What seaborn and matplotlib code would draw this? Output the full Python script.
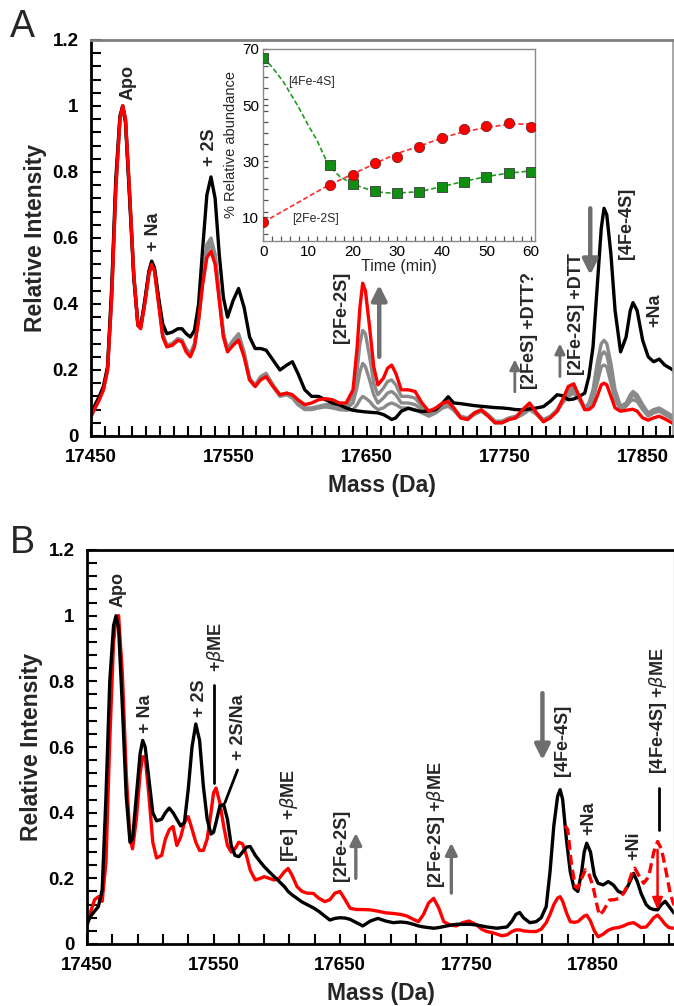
import numpy as np
import pandas as pd
import matplotlib
matplotlib.use('Agg')
import matplotlib.pyplot as plt
from matplotlib.ticker import MultipleLocator, FuncFormatter
import seaborn as sns

sns.set_style('ticks')
plt.rcParams['font.family'] = ['Liberation Sans', 'DejaVu Sans']
plt.rcParams['mathtext.fontset'] = 'dejavusans'
for k in ['xtick', 'ytick']:
    plt.rcParams[f'{k}.direction'] = 'in'
    plt.rcParams[f'{k}.major.size'] = 7
    plt.rcParams[f'{k}.minor.size'] = 7
    plt.rcParams[f'{k}.major.width'] = 1.5
    plt.rcParams[f'{k}.minor.width'] = 1.5
    plt.rcParams[f'{k}.color'] = 'black'

# ---------------- panel A spectra ----------------
mass_a = [17450, 17453, 17456, 17459, 17462, 17465, 17468, 17471, 17473, 17475,
          17478, 17481, 17484, 17486, 17489, 17492, 17494, 17496, 17499, 17502,
          17505, 17509, 17513, 17516, 17519, 17522, 17525, 17528, 17531, 17534,
          17537, 17540, 17543, 17546, 17549, 17553, 17557, 17561, 17565, 17569,
          17573, 17577, 17582, 17587, 17592, 17596, 17600, 17605, 17610, 17615,
          17620, 17625, 17630, 17635, 17640, 17643, 17645, 17647, 17649, 17652,
          17655, 17658, 17662, 17665, 17668, 17671, 17675, 17680, 17685, 17690,
          17695, 17700, 17705, 17709, 17713, 17718, 17723, 17728, 17733, 17738,
          17743, 17748, 17753, 17758, 17763, 17768, 17773, 17778, 17783, 17788,
          17792, 17796, 17800, 17804, 17808, 17811, 17814, 17817, 17820, 17822,
          17824, 17827, 17830, 17834, 17838, 17841, 17843, 17846, 17850, 17854,
          17858, 17862, 17866, 17872]

black_a = [0.065, 0.095, 0.12, 0.15, 0.21, 0.45, 0.78, 0.97, 1.0, 0.95,
           0.72, 0.48, 0.34, 0.33, 0.41, 0.50, 0.53, 0.51, 0.42, 0.34,
           0.31, 0.315, 0.325, 0.325, 0.31, 0.30, 0.32, 0.40, 0.57, 0.73,
           0.785, 0.72, 0.55, 0.42, 0.36, 0.41, 0.447, 0.39, 0.30, 0.265,
           0.265, 0.26, 0.23, 0.20, 0.215, 0.225, 0.19, 0.14, 0.12, 0.12,
           0.11, 0.10, 0.095, 0.085, 0.078, 0.076, 0.075, 0.074, 0.073, 0.072,
           0.071, 0.07, 0.065, 0.058, 0.05, 0.055, 0.075, 0.084, 0.078, 0.074,
           0.076, 0.08, 0.10, 0.119, 0.10, 0.098, 0.095, 0.092, 0.09, 0.088,
           0.086, 0.085, 0.083, 0.08, 0.079, 0.082, 0.085, 0.089, 0.105, 0.125,
           0.122, 0.11, 0.112, 0.12, 0.13, 0.18, 0.27, 0.45, 0.63, 0.69,
           0.67, 0.55, 0.38, 0.255, 0.30, 0.38, 0.404, 0.38, 0.29, 0.24,
           0.225, 0.233, 0.215, 0.20]

red_a = [0.06, 0.085, 0.11, 0.14, 0.20, 0.42, 0.75, 0.96, 1.0, 0.96,
         0.74, 0.49, 0.335, 0.325, 0.40, 0.49, 0.52, 0.50, 0.40, 0.30,
         0.27, 0.275, 0.29, 0.285, 0.255, 0.24, 0.27, 0.35, 0.46, 0.54,
         0.56, 0.52, 0.41, 0.30, 0.255, 0.275, 0.29, 0.24, 0.17, 0.15,
         0.17, 0.18, 0.15, 0.125, 0.13, 0.125, 0.11, 0.095, 0.10, 0.11,
         0.113, 0.11, 0.10, 0.10, 0.14, 0.27, 0.39, 0.463, 0.44, 0.33,
         0.21, 0.155, 0.175, 0.205, 0.215, 0.19, 0.14, 0.14, 0.135, 0.10,
         0.075, 0.085, 0.10, 0.104, 0.085, 0.055, 0.05, 0.07, 0.079, 0.06,
         0.04, 0.04, 0.05, 0.055, 0.08, 0.10, 0.07, 0.043, 0.055, 0.075,
         0.11, 0.15, 0.158, 0.12, 0.08, 0.08, 0.09, 0.12, 0.155, 0.16,
         0.155, 0.12, 0.085, 0.075, 0.078, 0.08, 0.081, 0.075, 0.055, 0.048,
         0.055, 0.06, 0.052, 0.038]

gray1_a = [0.062, 0.09, 0.115, 0.145, 0.205, 0.43, 0.76, 0.965, 1.0, 0.96,
           0.73, 0.49, 0.335, 0.33, 0.405, 0.495, 0.52, 0.505, 0.41, 0.31,
           0.275, 0.28, 0.295, 0.29, 0.265, 0.25, 0.28, 0.36, 0.48, 0.58,
           0.60, 0.55, 0.43, 0.31, 0.265, 0.29, 0.31, 0.255, 0.175, 0.155,
           0.18, 0.19, 0.155, 0.125, 0.13, 0.12, 0.10, 0.085, 0.085, 0.09,
           0.095, 0.095, 0.09, 0.09, 0.12, 0.20, 0.28, 0.32, 0.31, 0.24,
           0.16, 0.125, 0.145, 0.165, 0.17, 0.155, 0.12, 0.12, 0.115, 0.09,
           0.07, 0.08, 0.095, 0.10, 0.085, 0.06, 0.055, 0.07, 0.08, 0.065,
           0.045, 0.045, 0.055, 0.06, 0.075, 0.09, 0.07, 0.05, 0.06, 0.08,
           0.11, 0.14, 0.15, 0.12, 0.085, 0.10, 0.14, 0.22, 0.28, 0.29,
           0.28, 0.22, 0.14, 0.09, 0.10, 0.125, 0.135, 0.125, 0.095, 0.07,
           0.08, 0.085, 0.075, 0.06]

gray2_a = [0.06, 0.088, 0.112, 0.142, 0.20, 0.43, 0.76, 0.96, 1.0, 0.96,
           0.73, 0.49, 0.335, 0.33, 0.405, 0.495, 0.52, 0.505, 0.41, 0.305,
           0.275, 0.28, 0.295, 0.29, 0.262, 0.248, 0.275, 0.355, 0.475, 0.57,
           0.59, 0.545, 0.425, 0.31, 0.262, 0.285, 0.305, 0.25, 0.172, 0.152,
           0.178, 0.187, 0.152, 0.123, 0.127, 0.118, 0.098, 0.083, 0.083, 0.088,
           0.092, 0.09, 0.085, 0.083, 0.10, 0.15, 0.195, 0.22, 0.21, 0.17,
           0.125, 0.10, 0.115, 0.13, 0.135, 0.125, 0.10, 0.10, 0.095, 0.08,
           0.065, 0.075, 0.09, 0.095, 0.08, 0.058, 0.053, 0.068, 0.077, 0.062,
           0.043, 0.043, 0.052, 0.058, 0.07, 0.085, 0.068, 0.048, 0.058, 0.077,
           0.105, 0.13, 0.14, 0.115, 0.083, 0.095, 0.125, 0.19, 0.245, 0.255,
           0.245, 0.19, 0.125, 0.085, 0.095, 0.115, 0.125, 0.115, 0.088, 0.065,
           0.075, 0.08, 0.07, 0.055]

gray3_a = [0.058, 0.087, 0.11, 0.14, 0.20, 0.42, 0.75, 0.96, 1.0, 0.96,
           0.73, 0.49, 0.335, 0.33, 0.405, 0.495, 0.52, 0.505, 0.41, 0.305,
           0.275, 0.28, 0.29, 0.29, 0.26, 0.245, 0.275, 0.355, 0.47, 0.56,
           0.58, 0.54, 0.42, 0.305, 0.26, 0.28, 0.30, 0.245, 0.17, 0.15,
           0.175, 0.185, 0.15, 0.12, 0.125, 0.115, 0.095, 0.08, 0.08, 0.085,
           0.088, 0.085, 0.08, 0.078, 0.08, 0.095, 0.11, 0.12, 0.115, 0.105,
           0.09, 0.08, 0.085, 0.095, 0.10, 0.095, 0.085, 0.085, 0.08, 0.07,
           0.06, 0.07, 0.085, 0.09, 0.078, 0.055, 0.05, 0.065, 0.075, 0.06,
           0.04, 0.04, 0.05, 0.055, 0.065, 0.08, 0.065, 0.045, 0.055, 0.075,
           0.10, 0.12, 0.13, 0.11, 0.08, 0.09, 0.11, 0.16, 0.21, 0.215,
           0.21, 0.16, 0.11, 0.08, 0.09, 0.105, 0.11, 0.105, 0.08, 0.06,
           0.07, 0.075, 0.065, 0.05]

# ---------------- inset: abundance vs time ----------------
time_min = [0, 15, 20, 25, 30, 35, 40, 45, 50, 55, 60]
fe4s4_pct = [66.9, 28.6, 21.7, 19.5, 18.6, 19.0, 20.7, 22.5, 24.3, 25.6, 26.1]
fe2s2_pct = [8.2, 21.5, 25.2, 29.3, 31.4, 34.9, 38.3, 41.5, 42.5, 43.5, 42.3]

fit_t_green = [0, 2.2, 4.5, 7.85, 10, 12, 14.6, 17.2, 20.2, 25, 29.1, 35, 40, 44.8, 50, 54.9, 60]
fit_green = [67.0, 63.1, 58.3, 49.4, 43.0, 37.5, 28.6, 24.4, 21.7, 19.1, 18.5, 19.1, 20.9, 22.7, 24.5, 25.7, 26.5]
fit_t_red = [0, 14.6, 19.4, 25, 29.9, 35, 40, 44.8, 50, 54.9, 60]
fit_red = [8.2, 21.4, 24.9, 29.1, 32.7, 35.3, 38.3, 40.4, 42.0, 43.1, 43.3]

# ---------------- panel B spectra ----------------
mass_b = [17450, 17453, 17456, 17459, 17462, 17465, 17468, 17471, 17473, 17475,
          17478, 17481, 17484, 17486, 17489, 17492, 17494, 17496, 17499, 17502,
          17505, 17509, 17512, 17515, 17518, 17521, 17524, 17527, 17530, 17533,
          17536, 17539, 17542, 17545, 17548, 17550, 17552, 17555, 17558, 17561,
          17564, 17567, 17570, 17573, 17576, 17579, 17583, 17587, 17590, 17594,
          17598, 17602, 17606, 17609, 17612, 17616, 17620, 17624, 17629, 17633,
          17638, 17642, 17646, 17650, 17654, 17658, 17663, 17668, 17674, 17680,
          17686, 17692, 17698, 17703, 17708, 17712, 17716, 17720, 17724, 17728,
          17732, 17737, 17742, 17747, 17752, 17758, 17762, 17766, 17770, 17774,
          17778, 17782, 17786, 17789, 17792, 17795, 17800, 17805, 17809, 17813,
          17816, 17819, 17822, 17824, 17826, 17829, 17832, 17835, 17838, 17841,
          17843, 17845, 17848, 17851, 17854, 17858, 17862, 17866, 17870, 17874,
          17878, 17882, 17885, 17888, 17892, 17895, 17898, 17901, 17904, 17907,
          17910, 17914]

black_b = [0.063, 0.085, 0.10, 0.114, 0.165, 0.45, 0.80, 0.97, 1.0, 0.96,
           0.72, 0.45, 0.31, 0.32, 0.45, 0.58, 0.62, 0.60, 0.50, 0.40,
           0.375, 0.38, 0.40, 0.414, 0.40, 0.38, 0.36, 0.37, 0.47, 0.60,
           0.67, 0.62, 0.48, 0.38, 0.335, 0.34, 0.37, 0.42, 0.425, 0.38,
           0.30, 0.27, 0.266, 0.28, 0.295, 0.297, 0.27, 0.25, 0.236, 0.22,
           0.205, 0.19, 0.175, 0.16, 0.15, 0.139, 0.128, 0.12, 0.11, 0.10,
           0.085, 0.073, 0.078, 0.08, 0.079, 0.075, 0.065, 0.055, 0.07, 0.078,
           0.07, 0.065, 0.067, 0.065, 0.06, 0.055, 0.052, 0.05, 0.048, 0.05,
           0.053, 0.057, 0.06, 0.06, 0.06, 0.058, 0.055, 0.052, 0.05, 0.048,
           0.05, 0.052, 0.07, 0.09, 0.096, 0.08, 0.065, 0.068, 0.08, 0.114,
           0.22, 0.36, 0.45, 0.47, 0.44, 0.317, 0.22, 0.17, 0.16, 0.22,
           0.28, 0.307, 0.28, 0.21, 0.185, 0.18, 0.19, 0.18, 0.16, 0.154,
           0.18, 0.215, 0.19, 0.154, 0.12, 0.109, 0.105, 0.104, 0.12, 0.13,
           0.115, 0.094]

red_b = [0.053, 0.10, 0.135, 0.144, 0.13, 0.25, 0.62, 0.92, 0.99, 1.0,
         0.82, 0.52, 0.32, 0.29, 0.38, 0.52, 0.57, 0.57, 0.45, 0.31,
         0.262, 0.27, 0.32, 0.348, 0.358, 0.30, 0.325, 0.37, 0.388, 0.35,
         0.31, 0.285, 0.285, 0.32, 0.40, 0.46, 0.475, 0.43, 0.36, 0.30,
         0.28, 0.29, 0.31, 0.305, 0.27, 0.225, 0.195, 0.20, 0.205, 0.20,
         0.195, 0.20, 0.22, 0.23, 0.21, 0.175, 0.16, 0.155, 0.154, 0.14,
         0.129, 0.135, 0.155, 0.16, 0.135, 0.109, 0.105, 0.105, 0.104, 0.10,
         0.095, 0.093, 0.09, 0.085, 0.075, 0.068, 0.09, 0.125, 0.139, 0.11,
         0.068, 0.058, 0.055, 0.065, 0.07, 0.058, 0.045, 0.038, 0.035, 0.03,
         0.025, 0.028, 0.038, 0.043, 0.043, 0.04, 0.038, 0.038, 0.045, 0.065,
         0.09, 0.12, 0.14, 0.144, 0.13, 0.095, 0.068, 0.066, 0.068, 0.078,
         0.085, 0.088, 0.07, 0.04, 0.022, 0.03, 0.042, 0.048, 0.05, 0.055,
         0.062, 0.065, 0.058, 0.05, 0.052, 0.065, 0.08, 0.088, 0.075, 0.06,
         0.05, 0.048]

mass_b_dash = [17828, 17830, 17833, 17836, 17838, 17841, 17844, 17847, 17850, 17853,
               17855, 17858, 17863, 17867, 17871, 17875, 17878, 17881, 17883, 17886,
               17890, 17894, 17898, 17901, 17904, 17907, 17911, 17914]
red_b_dash = [0.36, 0.348, 0.24, 0.175, 0.17, 0.20, 0.226, 0.21, 0.175, 0.12,
              0.088, 0.10, 0.134, 0.135, 0.139, 0.16, 0.185, 0.22, 0.231, 0.21,
              0.185, 0.205, 0.28, 0.312, 0.29, 0.236, 0.154, 0.118]

# ---------------- figure ----------------
W, H = 674, 1006
fig = plt.figure(figsize=(W / 100, H / 100), dpi=100)

def px_box(left, top, right, bottom):
    return [left / W, 1 - bottom / H, (right - left) / W, (bottom - top) / H]

ax_a = fig.add_axes(px_box(91, 40, 673, 436))
ax_b = fig.add_axes(px_box(87, 550, 674, 944))
ax_in = fig.add_axes(px_box(263.3, 49, 535, 241))

TICK_FS = 13.5
LAB_FS = 16.5
ANN_FS = 13


def style_main(ax, xmax, xminor):
    ax.set_xlim(17450, xmax)
    ax.set_ylim(0, 1.2)
    ax.xaxis.set_major_locator(MultipleLocator(100, offset=50))
    ax.xaxis.set_minor_locator(MultipleLocator(xminor, offset=10 if xminor == 20 else 0))
    ax.yaxis.set_major_locator(MultipleLocator(0.2))
    ax.yaxis.set_minor_locator(MultipleLocator(0.04))
    ax.yaxis.set_major_formatter(FuncFormatter(lambda v, _: f'{v:g}'))
    ax.set_xlabel('Mass (Da)', fontsize=LAB_FS, fontweight='bold', labelpad=6)
    ax.set_ylabel('Relative Intensity', fontsize=LAB_FS, fontweight='bold', labelpad=4)
    for s in ['left', 'bottom']:
        ax.spines[s].set_linewidth(2)
        ax.spines[s].set_color('black')


def finish_ticks(ax):
    ax.tick_params(which='both', direction='in', length=7, width=1.5, color='black',
                   top=False, right=False, bottom=True, left=True)
    ax.tick_params(which='major', labelsize=TICK_FS, pad=9)
    for lab in ax.get_xticklabels() + ax.get_yticklabels():
        lab.set_fontweight('bold')


def rlabel(ax, x, y, s, **kw):
    ax.text(x, y, s, rotation=90, ha='center', va='center', fontsize=ANN_FS,
            fontweight='bold', **kw)


def arrow(ax, x, y0, y1, color='#6e6e6e', lw=3.2, hw=0.45, hl=0.9):
    ax.annotate('', xy=(x, y1), xytext=(x, y0),
                arrowprops=dict(arrowstyle=f'-|>,head_width={hw},head_length={hl}',
                                color=color, lw=lw, shrinkA=0, shrinkB=0))


# ---- panel A ----
for g in [gray1_a, gray2_a, gray3_a]:
    sns.lineplot(x=mass_a, y=g, ax=ax_a, color='#8a8a8a', linewidth=2.4,
                 estimator=None, sort=False)
sns.lineplot(x=mass_a, y=black_a, ax=ax_a, color='black', linewidth=2.4,
             estimator=None, sort=False)
sns.lineplot(x=mass_a, y=red_a, ax=ax_a, color='#ff0000', linewidth=2.4,
             estimator=None, sort=False)
style_main(ax_a, 17872, 10)
ax_a.spines['top'].set_color('#808080')
ax_a.spines['top'].set_linewidth(2)
ax_a.spines['right'].set_color('#9a9a9a')
ax_a.spines['right'].set_linewidth(1.2)

rlabel(ax_a, 17476.5, 1.07, 'Apo')
rlabel(ax_a, 17495, 0.62, '+ Na')
rlabel(ax_a, 17536, 0.876, '+ 2S')
rlabel(ax_a, 17631.5, 0.39, '[2Fe-2S]')
rlabel(ax_a, 17768, 0.32, '[2FeS] +DTT?')
rlabel(ax_a, 17802, 0.37, '[2Fe-2S] +DTT')
rlabel(ax_a, 17838, 0.645, '[4Fe-4S]')
rlabel(ax_a, 17858.5, 0.38, '+Na')
arrow(ax_a, 17659, 0.24, 0.458)
arrow(ax_a, 17757.3, 0.134, 0.232, lw=2, hw=0.3, hl=0.6)
arrow(ax_a, 17790, 0.18, 0.28, lw=2, hw=0.3, hl=0.6)
arrow(ax_a, 17812, 0.69, 0.488)

# ---- inset ----
sns.lineplot(x=fit_t_green, y=fit_green, ax=ax_in, color='#1f9a1f', linewidth=1.2,
             linestyle=(0, (3, 1.6)), estimator=None, sort=False)
sns.lineplot(x=fit_t_red, y=fit_red, ax=ax_in, color='#ff2a2a', linewidth=1.2,
             linestyle=(0, (3, 1.6)), estimator=None, sort=False)
sns.scatterplot(x=time_min, y=fe4s4_pct, ax=ax_in, marker='s', s=48,
                color='#0f8f0f', edgecolor='#3a3a3a', linewidth=0.6, zorder=3)
sns.scatterplot(x=time_min, y=fe2s2_pct, ax=ax_in, marker='o', s=55,
                color='#ff0000', edgecolor='#7a2020', linewidth=0.6, zorder=3)
ax_in.set_xlim(0, 60.9)
ax_in.set_ylim(1.5, 70)
ax_in.xaxis.set_major_locator(MultipleLocator(10))
ax_in.xaxis.set_minor_locator(MultipleLocator(2))
ax_in.set_yticks([10, 30, 50, 70])
ax_in.yaxis.set_minor_locator(MultipleLocator(4))
ax_in.set_xlabel('Time (min)', fontsize=11.5, labelpad=0)
ax_in.set_ylabel('% Relative abundance', fontsize=10.5, labelpad=3)
for s in ax_in.spines.values():
    s.set_color('#8a8a8a')
    s.set_linewidth(1)
ax_in.text(5.6, 58.3, '[4Fe-4S]', fontsize=8.8, va='center', ha='left')
ax_in.text(6.4, 9.5, '[2Fe-2S]', fontsize=8.8, va='center', ha='left')

# ---- panel B ----
sns.lineplot(x=mass_b, y=red_b, ax=ax_b, color='#ff0000', linewidth=2.4,
             estimator=None, sort=False)
sns.lineplot(x=mass_b, y=black_b, ax=ax_b, color='black', linewidth=2.4,
             estimator=None, sort=False)
sns.lineplot(x=mass_b_dash, y=red_b_dash, ax=ax_b, color='#ff0000', linewidth=2.4,
             linestyle=(0, (3, 1.5)), estimator=None, sort=False)
style_main(ax_b, 17914, 20)
ax_b.spines['top'].set_color('black')
ax_b.spines['top'].set_linewidth(2)
ax_b.spines['right'].set_color('#c8c8c8')
ax_b.spines['right'].set_linewidth(1)

rlabel(ax_b, 17474.5, 1.08, 'Apo')
rlabel(ax_b, 17496.5, 0.70, '+ Na')
rlabel(ax_b, 17539, 0.75, '+ 2S')
rlabel(ax_b, 17552, 0.905, r'+$\beta$ME')
rlabel(ax_b, 17570, 0.66, '+ 2S/Na')
rlabel(ax_b, 17610, 0.393, r'[Fe]  +$\beta$ME')
rlabel(ax_b, 17651, 0.30, '[2Fe-2S]')
rlabel(ax_b, 17726, 0.363, r'[2Fe-2S] +$\beta$ME')
rlabel(ax_b, 17826, 0.62, '[4Fe-4S]')
rlabel(ax_b, 17847, 0.384, '+Na')
rlabel(ax_b, 17882, 0.30, '+Ni')
rlabel(ax_b, 17901.5, 0.71, r'[4Fe-4S] +$\beta$ME')
ax_b.plot([17550, 17550], [0.79, 0.49], color='black', lw=2)
ax_b.plot([17569, 17559], [0.53, 0.43], color='black', lw=2)
ax_b.plot([17902, 17902], [0.475, 0.348], color='black', lw=2)
arrow(ax_b, 17810, 0.764, 0.56)
arrow(ax_b, 17662.5, 0.20, 0.338, lw=2.4, hw=0.35, hl=0.7)
arrow(ax_b, 17738, 0.155, 0.308, lw=2.4, hw=0.35, hl=0.7)
arrow(ax_b, 17901, 0.287, 0.104, color='#ff0000', lw=1.8, hw=0.3, hl=0.7)

# ticks last, so nothing above resets them
finish_ticks(ax_a)
finish_ticks(ax_b)
ax_in.tick_params(which='both', direction='in', length=3.5, width=0.9, color='#555555',
                  bottom=True, left=True, top=False, right=False)
ax_in.tick_params(which='major', labelsize=11, pad=3)

fig.text(10 / W, 1 - 27 / H, 'A', fontsize=27, ha='left', va='center')
fig.text(10 / W, 1 - 543 / H, 'B', fontsize=27, ha='left', va='center')

fig.savefig('out.png', dpi=100)
